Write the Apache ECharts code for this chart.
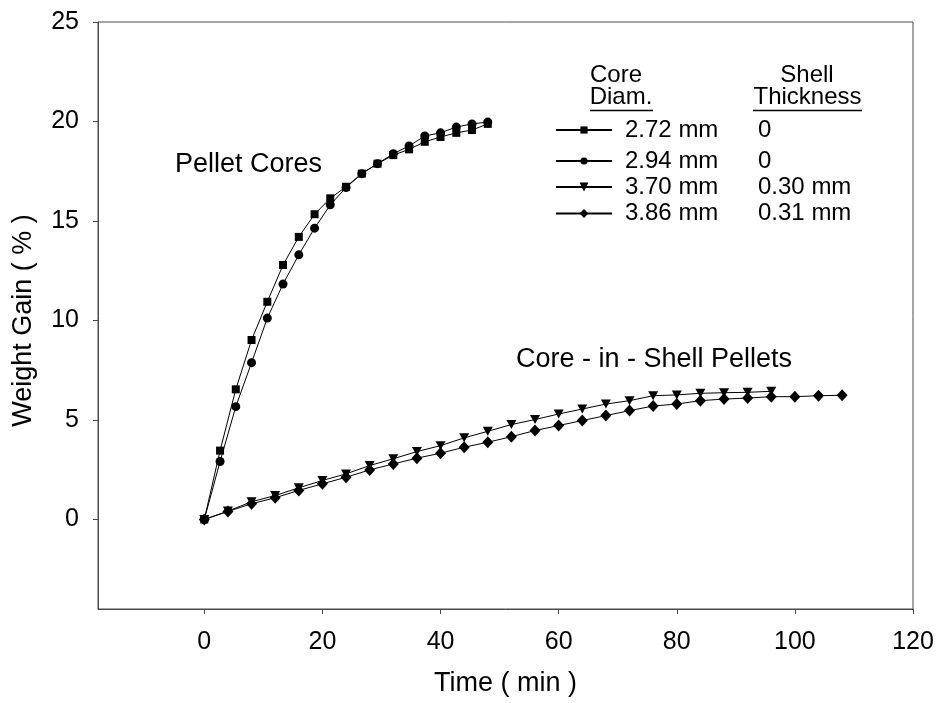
<!DOCTYPE html>
<html>
<head>
<meta charset="utf-8">
<script src="https://cdn.jsdelivr.net/npm/echarts@6/dist/echarts.min.js"></script>
<style>
html,body{margin:0;padding:0;background:#fff;}
#chart{width:941px;height:703px;}
</style>
</head>
<body>
<div id="chart"></div>
<script>
// ---- data ----
const timeCores = [0, 2.67, 5.33, 8, 10.67, 13.33, 16, 18.67, 21.33, 24, 26.67, 29.33, 32, 34.67, 37.33, 40, 42.67, 45.33, 48];
const core272 = [0, 3.46, 6.54, 9.02, 10.94, 12.79, 14.20, 15.34, 16.14, 16.72, 17.38, 17.88, 18.31, 18.60, 18.98, 19.22, 19.43, 19.57, 19.88];
const core294 = [0, 2.91, 5.67, 7.88, 10.12, 11.83, 13.30, 14.64, 15.81, 16.68, 17.38, 17.88, 18.38, 18.77, 19.27, 19.43, 19.72, 19.88, 19.97];

const timeShell370 = [0, 4, 8, 12, 16, 20, 24, 28, 32, 36, 40, 44, 48, 52, 56, 60, 64, 68, 72, 76, 80, 84, 88, 92, 96];
const shell370 = [0, 0.42, 0.89, 1.20, 1.59, 1.96, 2.29, 2.71, 3.05, 3.41, 3.71, 4.10, 4.43, 4.77, 5.02, 5.30, 5.55, 5.80, 5.97, 6.22, 6.26, 6.34, 6.37, 6.39, 6.44];
const timeShell386 = [0, 4, 8, 12, 16, 20, 24, 28, 32, 36, 40, 44, 48, 52, 56, 60, 64, 68, 72, 76, 80, 84, 88, 92, 96, 100, 104, 108];
const shell386 = [0, 0.40, 0.79, 1.09, 1.46, 1.79, 2.12, 2.49, 2.79, 3.08, 3.33, 3.63, 3.88, 4.16, 4.47, 4.72, 4.97, 5.22, 5.47, 5.70, 5.80, 5.97, 6.05, 6.10, 6.17, 6.17, 6.22, 6.24];

const coreDiam = ['2.72 mm', '2.94 mm', '3.70 mm', '3.86 mm'];
const shellThickness = ['0', '0', '0.30 mm', '0.31 mm'];
const xTicks = [0, 20, 40, 60, 80, 100, 120];
const yTicks = [0, 5, 10, 15, 20, 25];

// ---- chart ----
const FONT = '"Liberation Sans", Arial, sans-serif';
const AXIS_COLOR = '#4a4a4a';
const zip = (xs, ys) => xs.map((x, i) => [x, ys[i]]);
const triDown = 'path://M0,0 L10,0 L5,9 Z';

const seriesDefs = [
  { name: coreDiam[0], data: zip(timeCores, core272), symbol: 'rect', symbolSize: 8 },
  { name: coreDiam[1], data: zip(timeCores, core294), symbol: 'circle', symbolSize: 9 },
  { name: coreDiam[2], data: zip(timeShell370, shell370), symbol: triDown, symbolSize: [10, 9] },
  { name: coreDiam[3], data: zip(timeShell386, shell386), symbol: 'diamond', symbolSize: [11, 12] }
];

const legendRowCenters = [130, 161, 187, 213.5];
const legends = coreDiam.map((name, i) => ({
  data: [name],
  left: 555,
  top: legendRowCenters[i] - 12,
  padding: 0,
  itemWidth: 56,
  itemHeight: i >= 2 ? 11 : 9,
  selectedMode: false,
  formatter: n => '{a|' + n + '}{b|' + shellThickness[coreDiam.indexOf(n)] + '}',
  textStyle: {
    fontFamily: FONT, fontSize: 24, color: '#000', lineHeight: 24,
    rich: {
      a: { fontFamily: FONT, fontSize: 24, color: '#000', lineHeight: 24, width: 133, padding: [0, 0, 0, 8] },
      b: { fontFamily: FONT, fontSize: 24, color: '#000', lineHeight: 24 }
    }
  }
}));

const chart = echarts.init(document.getElementById('chart'), null, { renderer: 'canvas' });
chart.setOption({
  animation: false,
  backgroundColor: '#fff',
  grid: { left: 98, right: 28, top: 22, bottom: 94, show: true, borderColor: AXIS_COLOR, borderWidth: 1, backgroundColor: 'transparent' },
  xAxis: {
    type: 'value', min: -18, max: 120,
    name: 'Time ( min )', nameLocation: 'middle', nameGap: 61,
    nameTextStyle: { fontFamily: FONT, fontSize: 27, color: '#000' },
    axisLine: { show: true, onZero: false, lineStyle: { color: AXIS_COLOR, width: 1 } },
    axisTick: { show: true, length: 5, lineStyle: { color: AXIS_COLOR }, customValues: xTicks },
    axisLabel: { fontFamily: FONT, fontSize: 25, color: '#000', margin: 21, customValues: xTicks },
    splitLine: { show: false }
  },
  yAxis: {
    type: 'value', min: -4.5, max: 25,
    name: 'Weight Gain ( % )', nameLocation: 'middle', nameGap: 61,
    nameTextStyle: { fontFamily: FONT, fontSize: 27, color: '#000', padding: [0, 10, 0, 0] },
    axisLine: { show: true, onZero: false, lineStyle: { color: AXIS_COLOR, width: 1 } },
    axisTick: { show: true, length: 5, lineStyle: { color: AXIS_COLOR }, customValues: yTicks },
    axisLabel: { fontFamily: FONT, fontSize: 25, color: '#000', margin: 19, customValues: yTicks },
    splitLine: { show: false }
  },
  legend: legends,
  series: seriesDefs.map(s => ({
    type: 'line',
    name: s.name,
    data: s.data,
    symbol: s.symbol,
    symbolSize: s.symbolSize,
    showSymbol: true,
    showAllSymbol: true,
    lineStyle: { color: '#000', width: 1 },
    itemStyle: { color: '#000', borderWidth: 0 },
    emphasis: { disabled: true }
  })),
  graphic: [
    { type: 'text', left: 175, top: 151, style: { text: 'Pellet Cores', font: '27px ' + FONT, fill: '#000' } },
    { type: 'text', left: 516, top: 346, style: { text: 'Core - in - Shell Pellets', font: '27px ' + FONT, fill: '#000' } },
    { type: 'text', x: 616, y: 63, style: { text: 'Core', font: '24px ' + FONT, fill: '#000', textAlign: 'center' } },
    { type: 'text', x: 621, y: 85, style: { text: 'Diam.', font: '24px ' + FONT, fill: '#000', textAlign: 'center' } },
    { type: 'line', shape: { x1: 590, y1: 110.5, x2: 653, y2: 110.5 }, style: { stroke: '#000', lineWidth: 1.5 } },
    { type: 'text', x: 807, y: 63, style: { text: 'Shell', font: '24px ' + FONT, fill: '#000', textAlign: 'center' } },
    { type: 'text', x: 807.5, y: 85, style: { text: 'Thickness', font: '24px ' + FONT, fill: '#000', textAlign: 'center' } },
    { type: 'line', shape: { x1: 753, y1: 110.5, x2: 862, y2: 110.5 }, style: { stroke: '#000', lineWidth: 1.5 } }
  ]
});
</script>
</body>
</html>
